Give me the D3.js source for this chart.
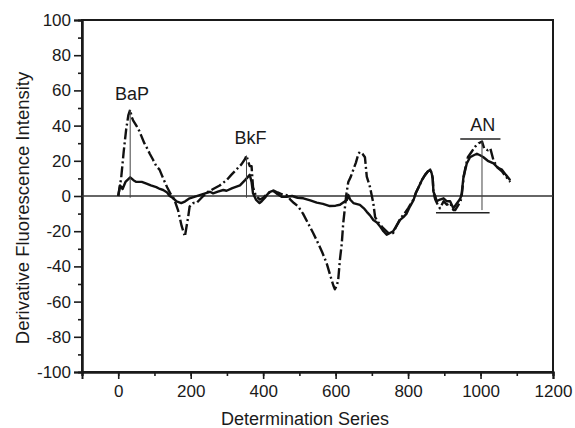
<!DOCTYPE html>
<html><head><meta charset="utf-8">
<script src="https://cdn.jsdelivr.net/npm/d3@7"></script>
<style>body{margin:0;background:#fff}svg{display:block}text{font-family:Arial,"Liberation Sans",sans-serif;fill:#1a1a1a}</style>
</head><body><svg id="c" width="575" height="428"></svg>
<script>
const xTicks=[0,200,400,600,800,1000,1200];
const yTicks=[-100,-80,-60,-40,-20,0,20,40,60,80,100];
const solidSeries=[[0,0],[5,6],[12,4],[20,8],[33,10.6],[42,9],[50,8],[65,8],[78,7],[90,6],[105,5],[115,4],[124,3.4],[135,2],[142,0],[150,-1],[161,-3],[174,-4],[185,-3],[197,-1.3],[210,-0.5],[225,0.5],[240,1.5],[253,2.4],[262,1.5],[275,2.5],[290,3.4],[299,3],[315,4.5],[336,6],[350,9],[363,12],[368,8],[372,1.5],[380,-2],[390,-4],[396,-3],[405,-1],[412,1],[419,2.4],[428,3],[440,1],[452,-0.5],[465,-0.4],[480,0],[495,-1],[511,-1.3],[530,-2.5],[548,-3.8],[565,-4.5],[584,-5.7],[600,-5.5],[612,-5],[622,-3.5],[631,-2.3],[635,0.6],[640,-2],[649,-4],[667,-5],[678,-7],[686,-9],[695,-11],[704,-13.6],[714,-15],[723,-17.4],[732,-20],[741,-22],[750,-21],[759,-20],[768,-17],[778,-13.6],[787,-12],[796,-10],[805,-6],[815,-2.3],[822,2],[829,5],[838,9],[847,12],[855,14],[861,15],[865,13],[868,10],[870,2.4],[875,0],[879,-3],[888,-2],[898,-1.3],[907,-3],[916,-3],[925,-7],[932,-5],[939,-3],[945,-1],[948,1.5],[953,11],[958,15],[962,18.5],[971,22],[980,23],[990,24],[1000,23],[1008,22],[1020,20],[1036,18.5],[1048,16],[1059,15],[1070,12],[1082,9]];
const dashSeries=[[0,0],[8,10],[15,25],[22,38],[28,46],[33,49],[37,45],[41,43],[50,40],[58,37],[64,34],[72,30],[80,27],[87,24],[95,21],[105,17],[114,15],[120,12],[124,10],[135,5],[145,1],[155,-2],[165,-8],[175,-17],[184,-23],[188,-18],[193,-12],[197,-6],[207,-4],[216,-4],[230,-1],[245,2],[262,4],[280,6],[299,9],[312,12],[326,15],[340,18],[350,21],[354,23],[358,20],[363,17],[368,17],[372,5],[380,0],[391,-2],[400,-1],[410,1],[419,2.4],[430,3],[440,2],[452,1],[465,0.5],[475,-2],[485,-4],[497,-6],[510,-10],[524,-15.5],[538,-21],[552,-27],[563,-32],[575,-38],[585,-45],[594,-51],[598,-53],[603,-51],[607,-48],[612,-36],[617,-27],[621,-15.5],[625,-8],[629,0],[635,8],[642,11],[649,15],[656,19],[663,24],[667,25],[674,24],[681,22],[686,11],[695,5],[704,-4],[709,-12],[718,-15],[730,-18],[745,-21],[759,-21],[768,-17],[778,-13],[790,-10],[800,-7],[815,-2],[822,2],[829,5],[838,9],[847,12],[855,14],[861,15],[865,13],[868,10],[870,2],[875,-2],[882,-5],[888,-7],[898,-3],[907,-5],[916,-4],[925,-8],[930,-8],[939,-5],[945,-3],[948,0],[953,10],[958,16],[965,22],[975,25],[985,28],[995,30],[1004,31],[1010,27],[1020,26],[1027,27],[1036,20],[1048,16],[1059,14],[1070,11],[1082,8]];
const peakNames=["BaP","BkF","AN"];
const peakX=[33,354,1004];
const peakTop=[49,23,31];
const peakBottom=[-1,-1,-8];
const labelPos=[[38,54.5],[365,29.5],[1006,37]];
const anBars=[[944,1055,32.4],[877,1025,-9.5]];

const svg=d3.select("#c");
const L=82,R=553,T=20,B=372;
const x=d3.scaleLinear().domain([-100,1200]).range([L,R]);
const y=d3.scaleLinear().domain([-100,100]).range([B,T]);
const fmt=d=>String(d);

svg.append("rect").attr("x",L).attr("y",T).attr("width",R-L).attr("height",B-T).attr("fill","none").attr("stroke","#1a1a1a").attr("stroke-width",2);

svg.append("g").attr("transform",`translate(0,${B})`)
  .call(d3.axisBottom(x).tickValues(d3.range(-100,1201,100)).tickSize(4).tickFormat(""));
svg.append("g").attr("transform",`translate(0,${B})`)
  .call(d3.axisBottom(x).tickValues(xTicks).tickSize(7).tickPadding(6).tickFormat(fmt));
svg.append("g").attr("transform",`translate(${L},0)`)
  .call(d3.axisLeft(y).tickValues(d3.range(-90,100,20)).tickSize(4).tickFormat(""));
svg.append("g").attr("transform",`translate(${L},0)`)
  .call(d3.axisLeft(y).tickValues(yTicks).tickSize(8).tickPadding(3).tickFormat(fmt));
svg.selectAll(".domain").attr("stroke","#1a1a1a").attr("stroke-width",2);
svg.selectAll(".tick line").attr("stroke","#1a1a1a").attr("stroke-width",1.6);
svg.selectAll(".tick text").attr("font-size",17).attr("fill","#1a1a1a");

svg.append("line").attr("x1",L).attr("x2",R).attr("y1",y(0)).attr("y2",y(0)).attr("stroke","#333").attr("stroke-width",1.5);

const line=d3.line().x(d=>x(d[0])).y(d=>y(d[1]));
svg.append("path").datum(solidSeries).attr("d",line).attr("fill","none").attr("stroke","#111").attr("stroke-width",2.4).attr("stroke-linejoin","round");
svg.append("path").datum(dashSeries).attr("d",line).attr("fill","none").attr("stroke","#111").attr("stroke-width",2.4).attr("stroke-dasharray","11,3,2,3").attr("stroke-linejoin","round");

peakNames.forEach((n,i)=>{
  svg.append("line").attr("x1",x(peakX[i])).attr("x2",x(peakX[i])).attr("y1",y(peakTop[i])).attr("y2",y(peakBottom[i])).attr("stroke","#444").attr("stroke-width",1);
  svg.append("text").attr("x",x(labelPos[i][0])).attr("y",y(labelPos[i][1])).attr("text-anchor","middle").attr("font-size",18).text(n);
});
anBars.forEach(b=>{
  svg.append("line").attr("x1",x(b[0])).attr("x2",x(b[1])).attr("y1",y(b[2])).attr("y2",y(b[2])).attr("stroke","#222").attr("stroke-width",1.5);
});

svg.append("text").attr("x",305).attr("y",425).attr("text-anchor","middle").attr("font-size",18).text("Determination Series");
svg.append("text").attr("transform",`translate(29,208) rotate(-90)`).attr("text-anchor","middle").attr("font-size",18.5).text("Derivative Fluorescence Intensity");
</script></body></html>
